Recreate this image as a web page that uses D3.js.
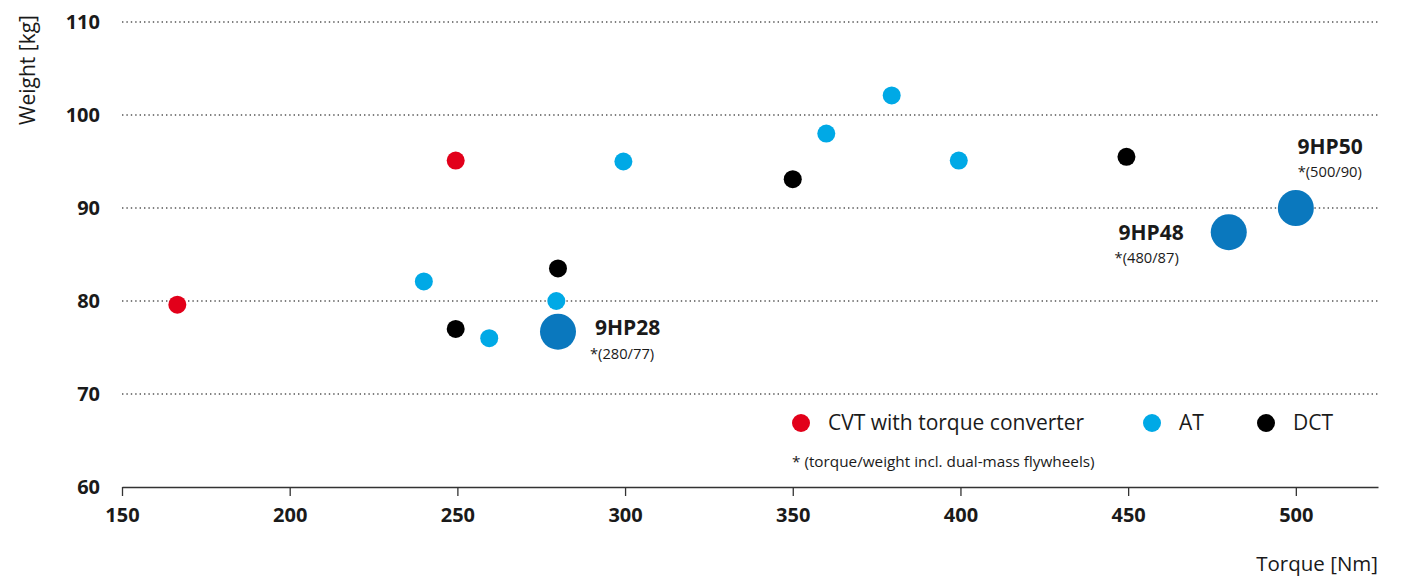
<!DOCTYPE html>
<html>
<head>
<meta charset="utf-8">
<script src="https://cdn.jsdelivr.net/npm/d3@7"></script>
<style>
  body { margin: 0; background: #fff; }
  svg text { font-family: "Open Sans", "DejaVu Sans", sans-serif; fill: #1a1a1a; }
</style>
</head>
<body>
<svg id="chart" width="1410" height="578"></svg>
<script>
//Chart data
var cvtPoints = [[166.5, 79.6], [249.5, 95.1]];
var atPoints = [[240, 82.1], [259.5, 76.0], [279.5, 80.0], [299.5, 95.0], [360, 98.0], [379.5, 102.1], [399.5, 95.1]];
var dctPoints = [[249.5, 77.0], [280, 83.5], [350, 93.1], [449.5, 95.5]];
var zfPoints = [[280, 76.7], [480, 87.4], [500, 90]];
var zfNames = ["9HP28", "9HP48", "9HP50"];
var zfNotes = ["*(280/77)", "*(480/87)", "*(500/90)"];
var xTicks = [150, 200, 250, 300, 350, 400, 450, 500];
var yTicks = [60, 70, 80, 90, 100, 110];
var legendNames = ["CVT with torque converter", "AT", "DCT"];
var legendColors = ["#e2001a", "#00a9e6", "#000000"];

var svg = d3.select("#chart");

//Scales
var x = d3.scaleLinear().domain([150, 524.5]).range([122, 1378]);
var y = d3.scaleLinear().domain([60, 110]).range([487, 22]);

//Dotted grid lines
svg.append("g")
    .selectAll("line")
    .data(yTicks.filter(function(d) { return d > 60; }))
    .enter().append("line")
    .attr("x1", x(150)).attr("x2", x(524.5))
    .attr("y1", function(d) { return y(d); })
    .attr("y2", function(d) { return y(d); })
    .attr("stroke", "#555")
    .attr("stroke-width", 1.4)
    .attr("stroke-dasharray", "1.4,3");

//X axis
var xAxis = svg.append("g")
    .attr("transform", "translate(0," + y(60) + ")")
    .call(d3.axisBottom(x).tickValues(xTicks).tickSize(9).tickPadding(12).tickSizeOuter(0));
xAxis.select(".domain").attr("stroke", "#333").attr("stroke-width", 1.3);
xAxis.selectAll(".tick line").attr("stroke", "#333").attr("stroke-width", 1.3);
xAxis.selectAll("text")
    .style("font-size", "20px").style("font-weight", "bold").attr("fill", "#1a1a1a");

//Y tick labels
svg.append("g")
    .selectAll("text")
    .data(yTicks)
    .enter().append("text")
    .attr("x", 100)
    .attr("y", function(d) { return y(d); })
    .attr("dy", "0.35em")
    .attr("text-anchor", "end")
    .style("font-size", "20px")
    .style("font-weight", "bold")
    .text(function(d) { return d; });

//Axis titles
svg.append("text")
    .attr("transform", "translate(35,70) rotate(-90)")
    .attr("text-anchor", "middle")
    .style("font-size", "21px")
    .attr("fill", "#333")
    .text("Weight [kg]");

svg.append("text")
    .attr("x", 1378).attr("y", 571)
    .attr("text-anchor", "end")
    .style("font-size", "20.5px")
    .attr("fill", "#333")
    .text("Torque [Nm]");

//Points
function drawPoints(data, color, r) {
    svg.append("g")
        .selectAll("circle")
        .data(data)
        .enter().append("circle")
        .attr("cx", function(d) { return x(d[0]); })
        .attr("cy", function(d) { return y(d[1]); })
        .attr("r", r)
        .attr("fill", color);
}
drawPoints(cvtPoints, legendColors[0], 9);
drawPoints(atPoints, legendColors[1], 9);
drawPoints(dctPoints, legendColors[2], 9);
drawPoints(zfPoints, "#0a78be", 18);

//Labels for the big points (offsets from the point)
var labelOffsets = [[37, -4, "start"], [-45, 0, "end"], [67, -61, "end"]];
var noteOffsets = [[32, 22, "start"], [-50, 26, "end"], [66, -36, "end"]];

svg.append("g")
    .selectAll("text")
    .data(zfPoints)
    .enter().append("text")
    .attr("x", function(d, i) { return x(d[0]) + labelOffsets[i][0]; })
    .attr("y", function(d, i) { return y(d[1]) + labelOffsets[i][1]; })
    .attr("dy", "0.35em")
    .attr("text-anchor", function(d, i) { return labelOffsets[i][2]; })
    .style("font-size", "21px")
    .style("font-weight", "bold")
    .text(function(d, i) { return zfNames[i]; });

svg.append("g")
    .selectAll("text")
    .data(zfPoints)
    .enter().append("text")
    .attr("x", function(d, i) { return x(d[0]) + noteOffsets[i][0]; })
    .attr("y", function(d, i) { return y(d[1]) + noteOffsets[i][1]; })
    .attr("dy", "0.35em")
    .attr("text-anchor", function(d, i) { return noteOffsets[i][2]; })
    .style("font-size", "14.7px")
    .attr("fill", "#444")
    .text(function(d, i) { return zfNotes[i]; });

//Legend
var legendX = [801, 1152, 1266];
var legend = svg.append("g")
    .selectAll("g")
    .data(legendNames)
    .enter().append("g")
    .attr("transform", function(d, i) { return "translate(" + legendX[i] + ",423)"; });

legend.append("circle")
    .attr("r", 9)
    .attr("fill", function(d, i) { return legendColors[i]; });

legend.append("text")
    .attr("x", 27)
    .attr("dy", "0.35em")
    .style("font-size", "21px")
    .attr("fill", "#333")
    .text(function(d) { return d; });

svg.append("text")
    .attr("x", 792).attr("y", 462)
    .attr("dy", "0.35em")
    .style("font-size", "15.3px")
    .attr("fill", "#444")
    .text("* (torque/weight incl. dual-mass flywheels)");
</script>
</body>
</html>
